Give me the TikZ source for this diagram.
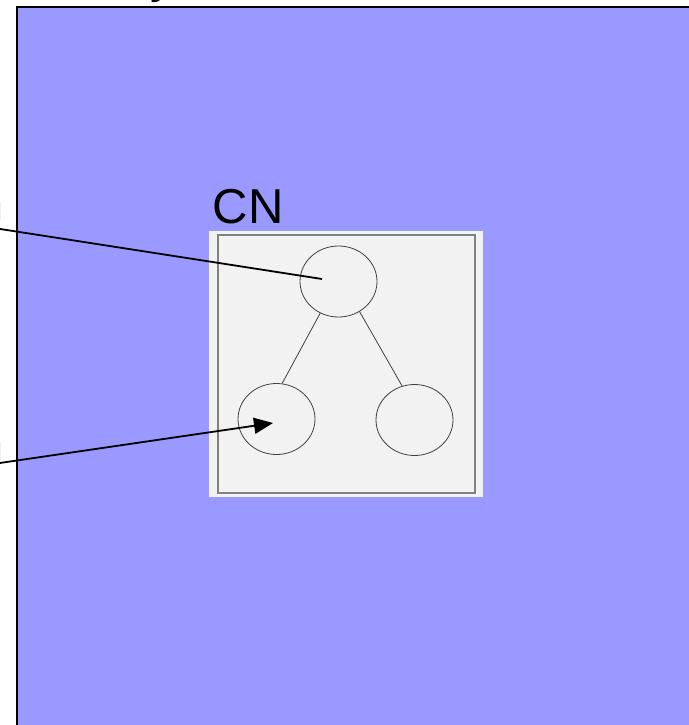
\documentclass[tikz,border=0pt]{standalone}
\usepackage{fontspec}
\setmainfont{Liberation Sans}
\usetikzlibrary{arrows.meta,shapes.geometric}
\definecolor{bgblue}{HTML}{9999FF}
\definecolor{boxgray}{HTML}{F2F2F2}
\definecolor{edgegray}{HTML}{404040}
\begin{document}
\begin{tikzpicture}[x=1pt,y=-1pt,
  bigtext/.style={inner sep=0pt,font=\fontsize{49}{55}\selectfont},
  treenode/.style={draw=edgegray,line width=0.8pt,fill=boxgray,ellipse,minimum width=77pt,minimum height=71pt,inner sep=0pt},
  treeedge/.style={draw=edgegray,line width=0.8pt},
  pointer/.style={draw=black,line width=1.8pt}]
\useasboundingbox (0,0) rectangle (688,725);
% blue background region
\path[fill=bgblue,draw=black,line width=2pt] (17,7) rectangle (720,760);
% clipped texts
\node[bigtext,anchor=base west] (topy) at (150,-7) {y};
\node[bigtext,anchor=base east] (lefta) at (4,220) {n};
\node[bigtext,anchor=base east] (leftb) at (4,460) {n};
% CN box
\path[fill=boxgray] (209,231) rectangle (483,497);
\node[draw=gray,line width=1.2pt,minimum width=257pt,minimum height=258pt,inner sep=0pt] (cnbox) at (346.5,364) {};
\node[bigtext,anchor=base west] (cn) at (212.5,223) {CN};
% tree
\node[treenode] (root) at (338.5,281.5) {};
\node[treenode] (lchild) at (276.5,419) {};
\node[treenode] (rchild) at (414.5,420) {};
\draw[treeedge] (root.240) -- (lchild.81);
\draw[treeedge] (root.305) -- (rchild.110);
% pointers
\coordinate (p1s) at (-5,228.2);
\coordinate (p1e) at (322,279);
\coordinate (p2s) at (-5,463.7);
\coordinate (p2e) at (273,423);
\draw[pointer] (p1s) -- (p1e);
\draw[pointer,-{Triangle[length=19pt,width=16pt]}] (p2s) -- (p2e);
\end{tikzpicture}
\end{document}
